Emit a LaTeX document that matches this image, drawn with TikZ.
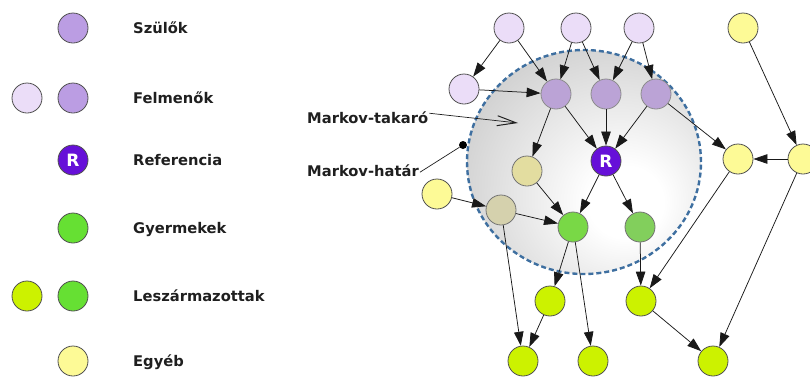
\documentclass[tikz,border=0pt]{standalone}
\usepackage{fontspec}
\setmainfont{DejaVu Sans}
\usetikzlibrary{arrows.meta}
\definecolor{ancc}{HTML}{EBDDF8}
\definecolor{parc}{HTML}{BB9DE3}
\definecolor{parin}{HTML}{BBA3D6}
\definecolor{refc}{HTML}{6610D8}
\definecolor{chc}{HTML}{66E033}
\definecolor{chinA}{HTML}{79D846}
\definecolor{chinB}{HTML}{82CF5C}
\definecolor{desc}{HTML}{CCF200}
\definecolor{othc}{HTML}{FDFA96}
\definecolor{cinA}{HTML}{E3DDA0}
\definecolor{cinB}{HTML}{D5D1AD}
\definecolor{bord}{HTML}{505050}
\definecolor{dashc}{HTML}{3E6FA0}
\pgfdeclareradialshading{sphereshade}{\pgfpoint{10bp}{-10bp}}{color(0bp)=(white); color(8bp)=(white); color(58bp)=(black!35); color(80bp)=(black!35)}
\begin{document}
\begin{tikzpicture}[x=1pt,y=-1pt,
  nd/.style={circle,draw=bord,line width=0.8pt,minimum size=30pt,inner sep=0pt},
  anc/.style={nd,fill=ancc},
  par/.style={nd,fill=parc},
  parI/.style={nd,fill=parin,draw=black!45},
  refn/.style={nd,fill=refc,text=white,font=\fontsize{17}{20}\selectfont\bfseries},
  chl/.style={nd,fill=chc},
  des/.style={nd,fill=desc},
  oth/.style={nd,fill=othc},
  arr/.style={-{Triangle[length=14pt,width=9.5pt]},line width=0.75pt,draw=black!90},
  lbl/.style={font=\fontsize{14.7}{17}\selectfont\bfseries,text=black!88,anchor=base west,inner sep=0pt}]
\useasboundingbox (0,0) rectangle (810,376);
\clip (0,0) rectangle (810,376);
% legend
\node[par] (l1) at (73,28) {};
\node[anc] (l2a) at (27,98) {};
\node[par] (l2b) at (73,98) {};
\node[refn] (l3) at (73,160) {R};
\node[chl] (l4) at (73,228) {};
\node[des] (l5a) at (27,296) {};
\node[chl] (l5b) at (73,296) {};
\node[oth] (l6) at (73,361) {};
\node[lbl] (t1) at (133,33) {Szülők};
\node[lbl] (t2) at (133,103) {Felmenők};
\node[lbl] (t3) at (133,165) {Referencia};
\node[lbl] (t4) at (133,233) {Gyermekek};
\node[lbl] (t5) at (133,301) {Leszármazottak};
\node[lbl] (t6) at (133,366) {Egyéb};
% sphere
\path[shading=sphereshade] (584,162) ellipse [x radius=117pt, y radius=112pt];
\draw[dashc,line width=2.4pt,dash pattern=on 5pt off 3pt] (584,162) ellipse [x radius=117pt, y radius=112pt];
% nodes
\node[anc] (a1) at (509,28) {};
\node[anc] (a2) at (576,28) {};
\node[anc] (a3) at (639,28) {};
\node[anc] (a4) at (464,89) {};
\node[parI] (p1) at (556,94) {};
\node[parI] (p2) at (606,94) {};
\node[parI] (p3) at (656,94) {};
\node[refn] (r) at (606,161) {R};
\node[oth] (y1) at (743,28) {};
\node[oth] (y2) at (738,159) {};
\node[oth] (y3) at (803,159) {};
\node[oth] (y4) at (437,194) {};
\node[nd,fill=cinA,draw=black!55] (c1) at (527,171) {};
\node[nd,fill=cinB,draw=black!55] (c2) at (501,210) {};
\node[nd,fill=chinA,draw=black!55] (g1) at (573,227) {};
\node[nd,fill=chinB,draw=black!55] (g2) at (640,227) {};
\node[des] (d1) at (550,301) {};
\node[des] (d2) at (641,301) {};
\node[des] (d3) at (523,361) {};
\node[des] (d4) at (593,361) {};
\node[des] (d5) at (713,361) {};
% edges
\foreach \s/\t in {a1/a4,a1/p1,a4/p1,a2/p1,a2/p2,a3/p2,a3/p3,p1/c1,p1/r,p2/r,p3/r,p3/y2,y1/y3,y3/y2,r/g1,r/g2,c1/g1,y4/c2,c2/g1,c2/d3,g1/d1,g1/d4,g2/d2,y2/d2,d1/d3,d2/d5,y3/d5}
  \draw[arr] (\s) -- (\t);
% Markov labels
\node[lbl] (mt) at (307,123) {Markov-takaró};
\coordinate (mtend) at (518,123);
\draw[line width=0.7pt,draw=black!88,-{Straight Barb[length=19pt,width=10pt,line width=1pt]}] ([yshift=4pt,xshift=1pt]mt.east) -- (mtend);
\node[lbl] (mh) at (307,176) {Markov-határ};
\node[circle,fill=black,inner sep=0pt,minimum size=8pt] (dot) at (463,145) {};
\draw[line width=0.7pt,draw=black!88] ([yshift=-2pt,xshift=1pt]mh.east) -- (dot);
\end{tikzpicture}
\end{document}
